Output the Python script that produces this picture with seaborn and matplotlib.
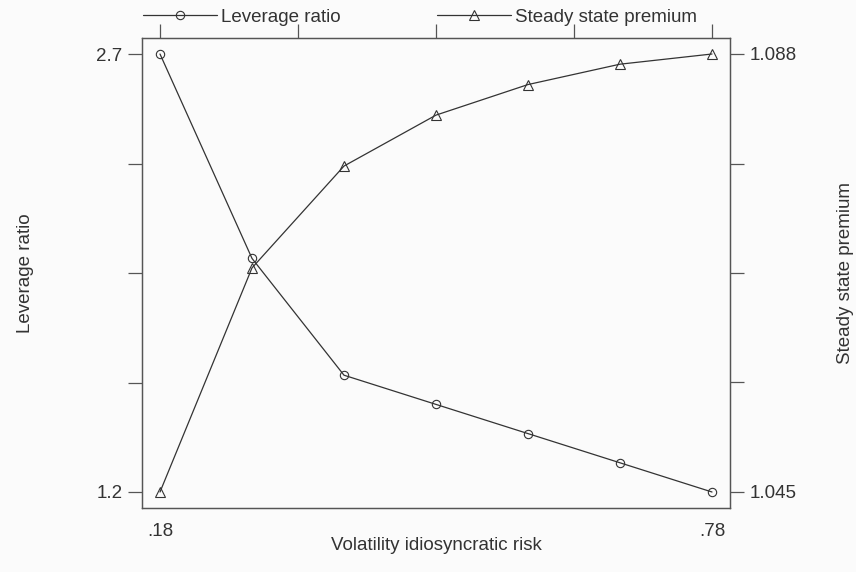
import matplotlib
matplotlib.use("Agg")
import matplotlib.pyplot as plt
import seaborn as sns
import pandas as pd

volatility = [0.18, 0.28, 0.38, 0.48, 0.58, 0.68, 0.78]
leverage_ratio = [2.7, 2.0, 1.6, 1.5, 1.4, 1.3, 1.2]
steady_state_premium = [1.045, 1.067, 1.077, 1.082, 1.085, 1.087, 1.088]

x_ticks = [0.18, 0.33, 0.48, 0.63, 0.78]
x_ticklabels = [".18", "", "", "", ".78"]
left_ticks = [1.2, 1.575, 1.95, 2.325, 2.7]
left_ticklabels = ["1.2", "", "", "", "2.7"]
right_ticks = [1.045, 1.05575, 1.0665, 1.07725, 1.088]
right_ticklabels = ["1.045", "", "", "", "1.088"]

sns.set_theme(style="white")
plt.rcParams["font.family"] = ["Liberation Sans", "DejaVu Sans"]

ink = "#333333"
frame = "#555555"
bg = "#fbfbfb"
fs = 13.5

df = pd.DataFrame({"vol": volatility, "lev": leverage_ratio, "prem": steady_state_premium})

fig = plt.figure(figsize=(8.56, 5.72), dpi=100, facecolor=bg)
ax = fig.add_axes([142 / 856, 1 - 508 / 572, 588 / 856, 470 / 572], facecolor=bg)
ax2 = ax.twinx()

sns.lineplot(data=df, x="vol", y="lev", ax=ax, color=ink, lw=0.9, marker="o",
             markersize=6, markerfacecolor="none", markeredgecolor=ink,
             markeredgewidth=0.8, label="Leverage ratio", legend=False)
sns.lineplot(data=df, x="vol", y="prem", ax=ax2, color=ink, lw=0.9, marker="^",
             markersize=6.5, markerfacecolor="none", markeredgecolor=ink,
             markeredgewidth=0.8, label="Steady state premium", legend=False)

ax.set_xlim(0.18 - 18 / 920, 0.78 + 18 / 920)
ax.set_ylim(1.2 - 16 / 292, 2.7 + 16 / 292)
ax2.set_ylim(1.045 - 16 * 0.043 / 438, 1.088 + 16 * 0.043 / 438)

ax.set_xticks(x_ticks)
ax.set_xticklabels(x_ticklabels)
ax.set_yticks(left_ticks)
ax.set_yticklabels(left_ticklabels)
ax2.set_yticks(right_ticks)
ax2.set_yticklabels(right_ticklabels)

for a in (ax, ax2):
    for s in a.spines.values():
        s.set_color(frame)
        s.set_linewidth(0.9)
    a.tick_params(length=10, width=0.9, color=frame, labelcolor=ink,
                  labelsize=fs, direction="out", pad=4)
ax.tick_params(axis="x", top=True, labeltop=False, pad=1)

ax.set_xlabel("Volatility idiosyncratic risk", fontsize=fs, color=ink)
ax.set_ylabel("Leverage ratio", fontsize=fs, color=ink)
ax2.set_ylabel("Steady state premium", fontsize=fs, color=ink)
ax.xaxis.set_label_coords(0.5, (508 - 537) / 470)
ax.yaxis.set_label_coords((34 - 142) / 588, 0.5)
ax2.yaxis.set_label_coords((837 - 142) / 588, 0.5)
ax.grid(False)
ax2.grid(False)

h1, l1 = ax.get_legend_handles_labels()
h2, l2 = ax2.get_legend_handles_labels()
common = dict(loc="center left", frameon=False, handlelength=3.95, handletextpad=0.2,
              borderpad=0, borderaxespad=0, prop={"size": fs}, labelcolor=ink)
fig.legend(h1, l1, bbox_to_anchor=(143 / 856, 1 - 17 / 572), **common)
fig.legend(h2, l2, bbox_to_anchor=(437 / 856, 1 - 17 / 572), **common)

fig.savefig("out.png", dpi=100, facecolor=bg)
